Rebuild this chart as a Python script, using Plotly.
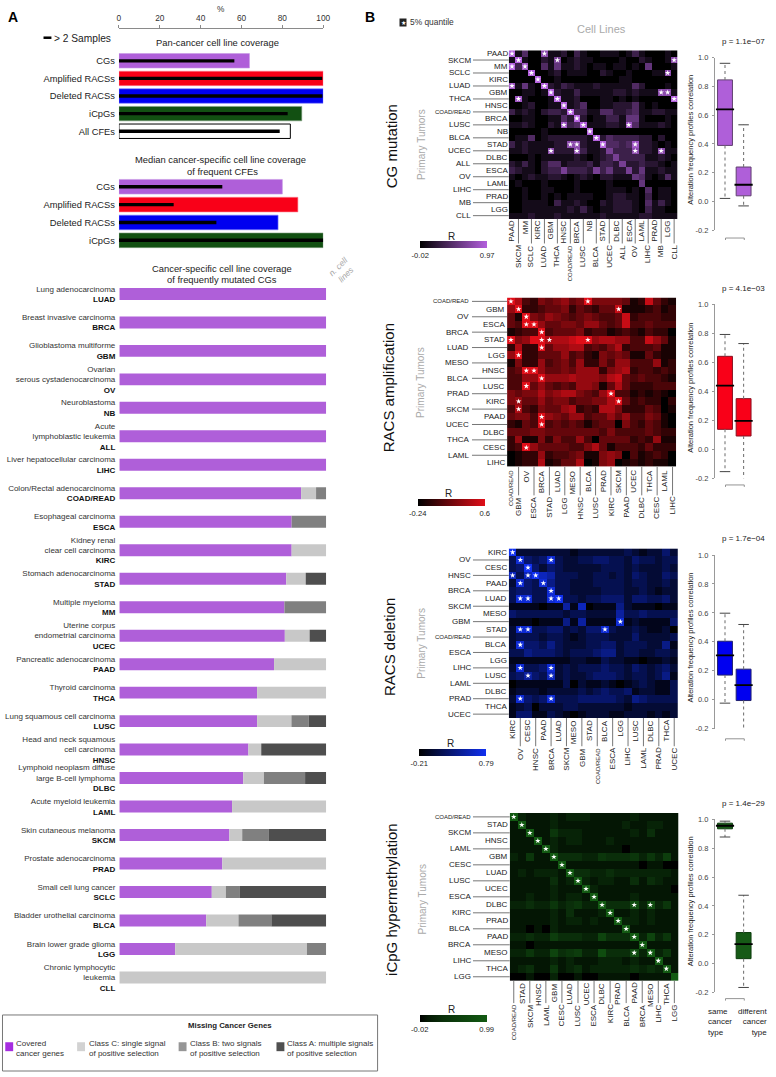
import plotly.graph_objects as go

W, H = 776, 1077
def px(x): return x / W
def py(y): return 1 - y / H

PURPLE, RED, BLUE, GREEN = "#AF5FD9", "#F90018", "#0000F0", "#125012"
C_CLASS, B_CLASS, A_CLASS = "#C8C8C8", "#808080", "#4E4E4E"

# ---------- Panel A data ----------
PAN_LABELS = ["CGs", "Amplified RACSs", "Deleted RACSs", "iCpGs", "All CFEs"]
PAN_ALL = [63.9, 100, 100, 89.5, 83.9]
PAN_GT2 = [56.5, 99.5, 99.6, 82.6, 78.7]
PAN_FILL = [PURPLE, RED, BLUE, GREEN, "#FFFFFF"]
PAN_EDGE = ["#C79AE6", "#FF8090", "#8080FF", "#7FA07F", "#000000"]

MED_LABELS = ["CGs", "Amplified RACSs", "Deleted RACSs", "iCpGs"]
MED_ALL = [80, 87.6, 77.9, 100]
MED_GT2 = [50.6, 26.8, 47.7, 100]

CODES = ["LUAD", "BRCA", "GBM", "OV", "NB", "ALL", "LIHC", "COAD/READ", "ESCA", "KIRC", "STAD", "MM", "UCEC",
         "PAAD", "THCA", "LUSC", "HNSC", "DLBC", "LAML", "SKCM", "PRAD", "SCLC", "BLCA", "LGG", "CLL"]
NAMES = ["Lung adenocarcinoma", "Breast invasive carcinoma", "Glioblastoma multiforme",
         "Ovarian<br>serous cystadenocarcinoma", "Neuroblastoma", "Acute<br>lymphoblastic leukemia",
         "Liver hepatocellular carcinoma", "Colon/Rectal adenocarcinoma", "Esophageal carcinoma",
         "Kidney renal<br>clear cell carcinoma", "Stomach adenocarcinoma", "Multiple myeloma",
         "Uterine corpus<br>endometrial carcinoma", "Pancreatic adenocarcinoma", "Thyroid carcinoma",
         "Lung squamous cell carcinoma", "Head and neck squamous<br>cell carcinoma",
         "Lymphoid neoplasm diffuse<br>large B-cell lymphoma", "Acute myeloid leukemia",
         "Skin cutaneous melanoma", "Prostate adenocarcinoma", "Small cell lung cancer",
         "Bladder urothelial carcinoma", "Brain lower grade glioma", "Chronic lymphocytic<br>leukemia"]
N_LINES = [64, 51, 36, 34, 32, 26, 17, 51, 35, 32, 25, 18, 9, 30, 16, 15, 42, 35, 28, 55, 6, 66, 19, 17, 3]
COVERED = [100, 100, 100, 100, 100, 100, 100, 87.9, 83.3, 83.3, 80.7, 79.8, 80, 74.8, 66.6, 66.6, 62.4, 59.9,
           54.5, 53.2, 49.8, 44.7, 42, 27, 0]
CLASS_C = [0, 0, 0, 0, 0, 0, 0, 7.2, 0, 16.7, 9.4, 0, 12, 25.2, 33.4, 16.6, 6.2, 10, 45.5, 6.2, 50.2, 6.8, 15.6, 63.7, 100]
CLASS_B = [0, 0, 0, 0, 0, 0, 0, 4.9, 16.7, 0, 0, 20.2, 0, 0, 0, 8.3, 0, 19.9, 0, 12.7, 0, 6.8, 15.9, 9.3, 0]
CLASS_A = [0, 0, 0, 0, 0, 0, 0, 0, 0, 0, 9.9, 0, 8, 0, 0, 8.5, 31.4, 10.2, 0, 27.9, 0, 41.7, 26.5, 0, 0]

# ---------- Panel B data: heatmap levels, 0 (lowest R) to 9 (highest R), read by eye ----------
CG_ROWS = ["PAAD", "SKCM", "MM", "SCLC", "KIRC", "LUAD", "GBM", "THCA", "HNSC", "COAD/READ", "BRCA", "LUSC", "NB",
           "BLCA", "STAD", "UCEC", "DLBC", "ALL", "ESCA", "OV", "LAML", "LIHC", "PRAD", "MB", "LGG", "CLL"]
CG_LEVELS = [
    "91400 71120 31001 11013 10001 0",
    "19100 21601 21100 00100 21001 7",
    "93800 41511 21011 01101 05000 1",
    "00090 01201 11002 10010 00117 0",
    "00009 00100 00000 00110 00000 0",
    "81510 92132 11121 11114 20001 0",
    "00110 19211 31111 12212 11177 1",
    "08100 01911 20001 10101 00000 9",
    "00120 01191 24001 12224 10100 0",
    "31210 23329 33114 42234 11221 1",
    "00110 01142 92011 33155 10001 0",
    "11210 02183 49111 22184 11121 0",
    "00000 10000 00900 00000 00000 0",
    "01140 12222 22192 43333 22020 0",
    "31211 11227 72119 44348 22101 0",
    "11211 17222 73112 63337 22171 1",
    "00010 11111 21012 36333 31121 0",
    "21310 24412 22313 32622 32210 1",
    "32110 23363 33263 52262 51121 1",
    "10121 12210 12102 21115 41014 1",
    "01000 10000 10000 10000 50000 0",
    "00100 11000 10000 11101 04011 0",
    "00100 10101 11100 12211 03011 0",
    "00111 10311 21002 12221 04131 0",
    "00111 11112 13101 12221 03110 0",
    "11121 11211 11112 11111 22111 1",
]
CG_STARS = [(0, 0), (0, 5), (1, 1), (1, 7), (1, 25), (2, 0), (2, 2), (3, 3), (3, 24), (4, 4), (5, 0), (5, 5), (6, 6),
            (6, 23), (6, 24), (7, 1), (7, 7), (7, 25), (8, 8), (9, 9), (10, 10), (11, 8), (11, 11), (11, 18), (12, 12),
            (13, 13), (14, 9), (14, 10), (14, 14), (14, 19), (15, 6), (15, 10), (15, 19), (15, 23)]

AMP_ROWS = ["COAD/READ", "GBM", "OV", "ESCA", "BRCA", "STAD", "LUAD", "LGG", "MESO", "HNSC", "BLCA", "LUSC", "PRAD",
            "KIRC", "SKCM", "PAAD", "UCEC", "DLBC", "THCA", "CESC", "LAML", "LIHC"]
AMP_LEVELS = [
    "97325 45645 95555 41284 21",
    "69223 44524 32448 11123 12",
    "41954 65434 54334 82333 22",
    "43996 44554 66434 83343 33",
    "12339 34445 23312 32132 20",
    "95699 77789 96776 63386 41",
    "27229 46677 34357 23334 11",
    "69224 44634 21545 41142 11",
    "15226 34536 22536 63336 12",
    "34996 44546 66256 72332 32",
    "33669 66676 66578 43433 21",
    "33946 43436 65147 42223 33",
    "54557 56775 43693 31212 10",
    "56446 45534 45579 42322 02",
    "37325 44672 32775 22243 01",
    "45539 65466 34464 63354 10",
    "21439 34343 13440 53243 10",
    "44455 44444 44353 33343 22",
    "26115 25336 30444 42326 11",
    "23964 44433 57413 33242 22",
    "01226 23345 11565 03123 20",
    "01227 12447 01560 12121 10",
]
AMP_STARS = [(0, 0), (0, 10), (1, 1), (1, 14), (2, 2), (3, 2), (3, 3), (4, 4), (5, 0), (5, 4), (5, 5), (5, 10), (6, 4),
             (7, 1), (9, 2), (9, 3), (10, 4), (11, 2), (12, 13), (13, 1), (13, 14), (14, 1), (15, 4), (16, 4), (19, 2)]

DEL_ROWS = ["KIRC", "OV", "CESC", "HNSC", "PAAD", "BRCA", "LUAD", "SKCM", "MESO", "GBM", "STAD", "COAD/READ", "BLCA",
            "ESCA", "LGG", "LIHC", "LUSC", "LAML", "DLBC", "PRAD", "THCA", "UCEC"]
DEL_LEVELS = [
    "92222 22212 22222 32122 42",
    "38434 83223 34433 24332 33",
    "34942 43222 22333 23222 32",
    "73797 63332 23323 24322 43",
    "28438 53322 23333 23322 32",
    "34433 83322 22333 22321 22",
    "38833 89332 33444 24433 42",
    "11110 11617 01115 21110 11",
    "43333 33233 22226 33433 33",
    "11101 11516 11118 12111 14",
    "28833 44232 44832 23211 20",
    "23332 33212 33322 24222 23",
    "28443 53222 33442 33322 51",
    "33544 43233 34552 33223 32",
    "11111 11122 11322 11011 21",
    "28334 82323 33433 24323 42",
    "34643 72322 34443 23323 51",
    "01111 11302 11210 12321 13",
    "12221 22223 23433 41221 13",
    "28434 83334 44443 25433 33",
    "12302 22332 22222 12222 22",
    "14411 32101 22211 22212 12",
]
DEL_STARS = [(0, 0), (1, 1), (1, 5), (2, 2), (3, 0), (3, 2), (3, 3), (4, 1), (4, 4), (5, 5), (6, 1), (6, 2), (6, 5),
             (6, 6), (9, 14), (10, 1), (10, 2), (10, 12), (12, 1), (15, 1), (15, 5), (16, 2), (16, 5), (19, 1), (19, 5)]

CPG_ROWS = ["COAD/READ", "STAD", "SKCM", "HNSC", "LAML", "GBM", "CESC", "LUAD", "LUSC", "UCEC", "ESCA", "DLBC", "KIRC",
            "PRAD", "BLCA", "PAAD", "BRCA", "MESO", "LIHC", "THCA", "LGG"]
CPG_LEVELS = [
    "92111 21222 11111 21111 1",
    "19111 21111 11112 11221 1",
    "11911 42221 11111 21311 1",
    "11191 21221 11211 11111 1",
    "11119 21111 11110 11111 1",
    "21411 93332 24333 42425 1",
    "11111 19111 11111 10110 0",
    "12122 21933 22322 22222 1",
    "11111 31292 12211 31321 1",
    "11111 21119 21111 11111 0",
    "11211 21221 91111 21111 1",
    "22322 42342 29333 72724 1",
    "11111 21311 12911 21211 1",
    "11111 21221 21192 21211 1",
    "11010 21111 11119 11111 1",
    "22322 53332 26333 92624 1",
    "11011 11111 11111 19111 1",
    "22422 63452 27333 72924 1",
    "11111 21211 12221 21191 1",
    "12311 41231 22222 32329 1",
    "00100 20010 01111 01111 9",
]
CPG_STARS = [(i, i) for i in range(20)] + [(11, 15), (11, 17), (17, 15)]

# ---------- Panel B data: boxes [same, different] ----------
BOX_TOP = [[0.96, 0.533], [0.793, 0.73], [0.598, 0.52], [0.988, 0.474]]
BOX_Q3 = [[0.845, 0.24], [0.642, 0.35], [0.404, 0.211], [0.974, 0.215]]
BOX_MED = [[0.64, 0.117], [0.44, 0.197], [0.307, 0.1], [0.956, 0.135]]
BOX_Q1 = [[0.39, 0.04], [0.138, 0.092], [0.17, -0.006], [0.935, 0.034]]
BOX_LOW = [[0.022, -0.03], [-0.154, -0.214], [-0.024, -0.239], [0.878, -0.166]]
P_TEXT = ["p = 1.1e\u221207", "p = 4.1e\u221203", "p = 1.7e\u221204", "p = 1.4e\u221229"]

fig = go.Figure()
layout = dict(width=W, height=H, autosize=False, margin=dict(l=0, r=0, t=0, b=0, pad=0), showlegend=False,
              plot_bgcolor="white", paper_bgcolor="white", barmode="overlay",
              font=dict(family="Liberation Sans, Arial, sans-serif", color="#222222"))
annos, shapes = [], []

def text(x, y, s, size=8, color="#222222", anchor="left", angle=0, valign="middle", xref="paper", yref="paper", align=None):
    annos.append(dict(x=x if xref != "paper" else px(x), y=y if yref != "paper" else py(y), xref=xref, yref=yref, text=s,
                      showarrow=False, font=dict(size=size, color=color), xanchor=anchor, yanchor=valign,
                      textangle=angle, borderpad=0, borderwidth=0, align=align or anchor))

def bar_axes(n, x0, x1, y0, y1, labels, ticktext, tickfont, ang=None):
    sx = "" if n == 1 else str(n)
    layout["xaxis" + sx] = dict(domain=[px(x0), px(x1)], range=[0, 100], anchor="y" + sx, visible=False, fixedrange=True)
    layout["yaxis" + sx] = dict(domain=[py(y1), py(y0)], type="category", categoryorder="array", categoryarray=labels,
                                range=[len(labels) - 0.5, -0.5], anchor="x" + sx, showline=False, ticks="",
                                showgrid=False, zeroline=False, tickmode="array", tickvals=labels, ticktext=ticktext,
                                tickfont=tickfont, ticklabelstandoff=3, fixedrange=True)
    return "x" + sx, "y" + sx

# Pan-cancer
xa, ya = bar_axes(1, 118.3, 325, 48.4, 137.2, list(range(len(PAN_LABELS))), PAN_LABELS, dict(size=9.3, color="#222"))
layout["xaxis"].update(visible=True, side="top", anchor="free", position=py(23.7), showline=True, linecolor="#8a8a8a",
                       linewidth=1, ticks="outside", ticklen=3, tickcolor="#8a8a8a", tickmode="array",
                       tickvals=[0, 20, 40, 60, 80, 100], showgrid=False, zeroline=False, tickfont=dict(size=8.3, color="#333"),
                       ticklabelstandoff=0)
rows = list(range(len(PAN_LABELS)))
fig.add_trace(go.Bar(x=PAN_ALL, y=rows, orientation="h", width=0.82, marker=dict(color=PAN_FILL, line=dict(color=PAN_EDGE, width=[.6, .6, .6, .6, 1])), xaxis=xa, yaxis=ya))
fig.add_trace(go.Bar(x=PAN_GT2, y=rows, orientation="h", width=0.19, marker=dict(color="#000000", line_width=0), xaxis=xa, yaxis=ya))

# Median
xa, ya = bar_axes(2, 118.3, 325, 175.3, 247.3, list(range(len(MED_LABELS))), MED_LABELS, dict(size=9.3, color="#222"))
rows = list(range(len(MED_LABELS)))
fig.add_trace(go.Bar(x=MED_ALL, y=rows, orientation="h", width=0.82, marker=dict(color=PAN_FILL[:4], line=dict(color=PAN_EDGE[:4], width=.6)), xaxis=xa, yaxis=ya))
fig.add_trace(go.Bar(x=MED_GT2, y=rows, orientation="h", width=0.19, marker=dict(color="#000000", line_width=0), xaxis=xa, yaxis=ya))

# Cancer-specific stacked
ticks3 = [f"<span style='color:#333'>{n}</span><br><b>{c}</b>" for n, c in zip(NAMES, CODES)]
xa, ya = bar_axes(3, 118.7, 328, 278, 996, CODES, ticks3, dict(size=8, color="#111"))
base = [0] * len(CODES)
for vals, col in ((COVERED, PURPLE), (CLASS_C, C_CLASS), (CLASS_B, B_CLASS), (CLASS_A, A_CLASS)):
    fig.add_trace(go.Bar(x=vals, y=CODES, base=base, orientation="h", width=0.42, marker=dict(color=col, line_width=0), xaxis=xa, yaxis=ya))
    base = [b + v for b, v in zip(base, vals)]
fig.add_trace(go.Scatter(x=[104.9] * len(CODES), y=CODES, mode="text", text=[f"<i>{n}</i>" for n in N_LINES],
                         textposition="middle center", textfont=dict(size=10, color="#a8a8a8"), cliponaxis=False, xaxis=xa, yaxis=ya))

text(11, 13, "<b>A</b>", 14, "#000", "center")
text(372, 13, "<b>B</b>", 14, "#000", "center")
text(222, 5, "%", 8.3, "#333", "center")
text(53, 34.5, "> 2 Samples", 10.2, "#222")
shapes.append(dict(type="line", xref="paper", yref="paper", x0=px(42), x1=px(50), y0=py(34), y1=py(34), line=dict(color="#000", width=2.5)))
text(218, 39, "Pan-cancer cell line coverage", 9.4, "#222", "center")
text(221, 157, "Median cancer-specific cell line coverage", 9.4, "#222", "center")
text(223, 169, "of frequent CFEs", 9.4, "#222", "center")
text(223, 267, "Cancer-specific cell line coverage", 9.4, "#222", "center")
text(223, 278, "of frequently mutated CGs", 9.4, "#222", "center")
text(344, 269, "<i>n. cell<br>lines</i>", 8.5, "#a8a8a8", "center", angle=-45)

# Legend box
shapes.append(dict(type="rect", xref="paper", yref="paper", x0=px(0.5), x1=px(380), y0=py(1076), y1=py(1019.5), line=dict(color="#777", width=1), fillcolor="white", layer="below"))
text(230.7, 1030.5, "<b>Missing Cancer Genes</b>", 7.8, "#222", "center")
LEG = [(3.3, "#A62DE0", "Covered<br>cancer genes", 14.3), (76, "#D2D2D2", "Class C: single signal<br>of positive selection", 87.7),
       (178.7, "#969696", "Class B: two signals<br>of positive selection", 190.7), (277.7, "#505050", "Class A: multiple signals<br>of positive selection", 288.7)]
for x0, col, s, tx in LEG:
    shapes.append(dict(type="rect", xref="paper", yref="paper", x0=px(x0), x1=px(x0 + 8), y0=py(1056), y1=py(1047), line_width=0, fillcolor=col))
    text(tx, 1052.8, s, 8, "#333")

# ---------- Heatmaps ----------
HM = [
    dict(rows=CG_ROWS, lv=CG_LEVELS, stars=CG_STARS, lo=-0.02, hi=0.97, lo_t="-0.02", hi_t="0.97", scale=[[0, "#000000"], [1, "#B35FDD"]],
         box=(512.7, 683.3, 46.7, 216.7), rn=511.5, rf=475, ll=476.5, cn=218, cf=243, first_row_near=True, first_col_near=True,
         cb=(423.3, 490.7, 239.3), r_y=234, r_x=455, title="CG mutation", tx=394, ty=143, px_=425, py_=142),
    dict(rows=AMP_ROWS, lv=AMP_LEVELS, stars=AMP_STARS, lo=-0.24, hi=0.6, lo_t="-0.24", hi_t="0.6", scale=[[0, "#000000"], [1, "#E00E18"]],
         box=(511, 682.3, 296, 466.7), rn=508.5, rf=472.5, ll=475.5, cn=470, cf=497, first_row_near=False, first_col_near=True,
         cb=(421, 488, 499), r_y=494, r_x=452, title="RACS amplification", tx=391, ty=387, px_=424, py_=382),
    dict(rows=DEL_ROWS, lv=DEL_LEVELS, stars=DEL_STARS, lo=-0.21, hi=0.79, lo_t="-0.21", hi_t="0.79", scale=[[0, "#000000"], [1, "#1030F0"]],
         box=(512.7, 684, 549, 720), rn=510.5, rf=474, ll=476.5, cn=722, cf=750, first_row_near=True, first_col_near=True,
         cb=(422.3, 489.7, 751.7), r_y=746, r_x=454, title="RACS deletion", tx=392, ty=648, px_=425, py_=645),
    dict(rows=CPG_ROWS, lv=CPG_LEVELS, stars=CPG_STARS, lo=-0.02, hi=0.99, lo_t="-0.02", hi_t="0.99",
         scale=[[0, "#000000"], [0.12, "#041804"], [0.35, "#0A300A"], [1, "#125A12"]],
         box=(513.7, 684.3, 815.7, 985), rn=511.7, rf=475, ll=476.5, cn=987, cf=1009, first_row_near=False, first_col_near=False,
         cb=(423, 490, 1019.3), r_y=1013.5, r_x=455, title="iCpG hypermethylation", tx=394, ty=903, px_=425, py_=903),
]
AX = 4
for h in HM:
    rows_ = h["rows"]
    n = len(rows_)
    z = []
    for line in h["lv"]:
        d = line.replace(" ", "")
        z.append([h["lo"] + (h["hi"] - h["lo"]) * int(c) / 9 for c in d[:n]])
    xa, ya = f"x{AX}", f"y{AX}"
    x0, x1, y0, y1 = h["box"]
    layout[f"xaxis{AX}"] = dict(domain=[px(x0), px(x1)], anchor=ya, type="category", categoryorder="array", categoryarray=rows_,
                                range=[-0.5, n - 0.5], showticklabels=False, ticks="", showgrid=False, zeroline=False, showline=False, fixedrange=True)
    layout[f"yaxis{AX}"] = dict(domain=[py(y1), py(y0)], anchor=xa, type="category", categoryorder="array", categoryarray=rows_,
                                range=[n - 0.5, -0.5], showticklabels=False, ticks="", showgrid=False, zeroline=False, showline=False, fixedrange=True)
    c0, c1, cy = h["cb"]
    fig.add_trace(go.Heatmap(z=z, x=rows_, y=rows_, zmin=h["lo"], zmax=h["hi"], colorscale=h["scale"],
                             xaxis=xa, yaxis=ya, showscale=True, hoverinfo="skip",
                             colorbar=dict(orientation="h", lenmode="pixels", len=c1 - c0, thicknessmode="pixels", thickness=6.7,
                                           x=px((c0 + c1) / 2), xanchor="center", y=py(cy), yanchor="top", xpad=0, ypad=0,
                                           outlinewidth=0, ticks="", tickmode="array", tickvals=[h["lo"], h["hi"]],
                                           ticktext=[h["lo_t"], h["hi_t"]], tickfont=dict(size=7.6, color="#222"), ticklabelposition="outside")))
    fig.add_trace(go.Scatter(x=[rows_[c] for r, c in h["stars"]], y=[rows_[r] for r, c in h["stars"]], mode="markers",
                             marker=dict(symbol="star", size=4.2, color="white", line_width=0), xaxis=xa, yaxis=ya, hoverinfo="skip"))
    for i, lab in enumerate(rows_):
        near = (i % 2 == 0) == h["first_row_near"]
        fs = 6 if lab == "COAD/READ" else 8
        text(h["rn"] if near else h["rf"], lab, lab, fs, "#222", "right", yref=ya)
        if not near:
            shapes.append(dict(type="line", xref="paper", yref=ya, x0=px(h["ll"]), x1=px(x0), y0=lab, y1=lab, line=dict(color="#666", width=0.9)))
    for j, lab in enumerate(rows_):
        near = (j % 2 == 0) == h["first_col_near"]
        fs = 6 if lab == "COAD/READ" else 8
        text(lab, h["cn"] if near else h["cf"], lab, fs, "#222", "center", angle=-90, valign="top", xref=xa)
        if not near:
            shapes.append(dict(type="line", xref=xa, yref="paper", x0=lab, x1=lab, y0=py(y1), y1=py(h["cf"] - 1.5), line=dict(color="#666", width=0.9)))
    text(h["r_x"], h["r_y"], "R", 10, "#222", "center")
    text(h["tx"], h["ty"], h["title"], 15, "#111", "center", angle=-90)
    text(h["px_"], h["py_"], "Primary Tumors", 10, "#aaaaaa", "center", angle=-90)
    AX += 1

text(607, 25, "Cell Lines", 11, "#aaaaaa", "center")
text(413, 18.5, "5% quantile", 8.4, "#333")
annos.append(dict(x=px(406), y=py(18.5), xref="paper", yref="paper", text="\u2605", showarrow=False, bgcolor="#222222",
                  font=dict(size=6, color="white"), xanchor="center", yanchor="middle", borderpad=0.5))

# ---------- Boxes ----------
BOXGEO = [(54, 228.3, 38, 236, 137), (303, 478.3, 287, 485, 387), (555.7, 730.7, 539, 741, 639), (822.3, 996.7, 806, 1003, 905)]
BOX_FILL = [PURPLE, RED, BLUE, "#165A16"]
BOX_EDGE = ["#60406F", "#8A1020", "#20206F", "#0C3C0C"]
for i, (y0, y1, p_y, br_y, t_y) in enumerate(BOXGEO):
    xa, ya = f"x{AX}", f"y{AX}"
    layout[f"xaxis{AX}"] = dict(domain=[px(721.7), px(771)], anchor=ya, range=[-0.52, 2.1], visible=False, fixedrange=True)
    layout[f"yaxis{AX}"] = dict(domain=[py(y1), py(y0)], anchor=xa, range=[-0.2, 1.0], tickmode="array", tickvals=[-0.2, 0, 0.2, 0.4, 0.6, 0.8, 1.0],
                                ticktext=["-0.2", "0.0", "0.2", "0.4", "0.6", "0.8", "1.0"], showline=True, linecolor="#999", linewidth=1,
                                ticks="outside", ticklen=2.5, tickcolor="#999", showgrid=False, zeroline=False, tickfont=dict(size=7.5, color="#444"), ticklabelstandoff=2, fixedrange=True)
    for k in (0, 1):
        wx = [k, k]
        fig.add_trace(go.Scatter(x=wx, y=[BOX_Q3[i][k], BOX_TOP[i][k]], mode="lines", line=dict(color="#777", dash="dot", width=1.1), xaxis=xa, yaxis=ya, cliponaxis=False))
        fig.add_trace(go.Scatter(x=wx, y=[BOX_Q1[i][k], BOX_LOW[i][k]], mode="lines", line=dict(color="#777", dash="dot", width=1.1), xaxis=xa, yaxis=ya, cliponaxis=False))
    fig.add_trace(go.Scatter(x=[0, 1, 0, 1], y=BOX_TOP[i] + BOX_LOW[i], mode="markers", marker=dict(symbol="line-ew", size=7.5, line=dict(color="#444", width=1)), xaxis=xa, yaxis=ya, cliponaxis=False))
    fig.add_trace(go.Box(x=[0, 1], q1=BOX_Q1[i], median=BOX_MED[i], q3=BOX_Q3[i], lowerfence=BOX_Q1[i], upperfence=BOX_Q3[i], width=0.8,
                         fillcolor=BOX_FILL[i], line=dict(color=BOX_EDGE[i], width=1), whiskerwidth=0, xaxis=xa, yaxis=ya))
    fig.add_trace(go.Scatter(x=[0, 1], y=BOX_MED[i], mode="markers", marker=dict(symbol="line-ew", size=13, line=dict(color="#000", width=1.8)), xaxis=xa, yaxis=ya))
    text(750, p_y, P_TEXT[i], 8, "#222", "center")
    text(697, t_y, "Alteration frequency profiles correlation", 7.5, "#222", "center", angle=-90)
    shapes.append(dict(type="path", xref="paper", yref="paper", path=f"M {px(732)} {py(br_y+2)} L {px(732)} {py(br_y)} L {px(751)} {py(br_y)} L {px(751)} {py(br_y+2)}", line=dict(color="#888", width=0.9)))
    AX += 1

text(714, 1026.5, "same<br>cancer<br>type", 8, "#222", "left")
text(775, 1026.5, "different<br>cancer<br>type", 8, "#222", "right")

layout["annotations"] = annos
layout["shapes"] = shapes
fig.update_layout(**layout)
fig.write_html("out.html", config=dict(displayModeBar=False),
               post_script="document.documentElement.style.overflow='hidden';document.body.style.margin='0';document.body.style.overflow='hidden';")
